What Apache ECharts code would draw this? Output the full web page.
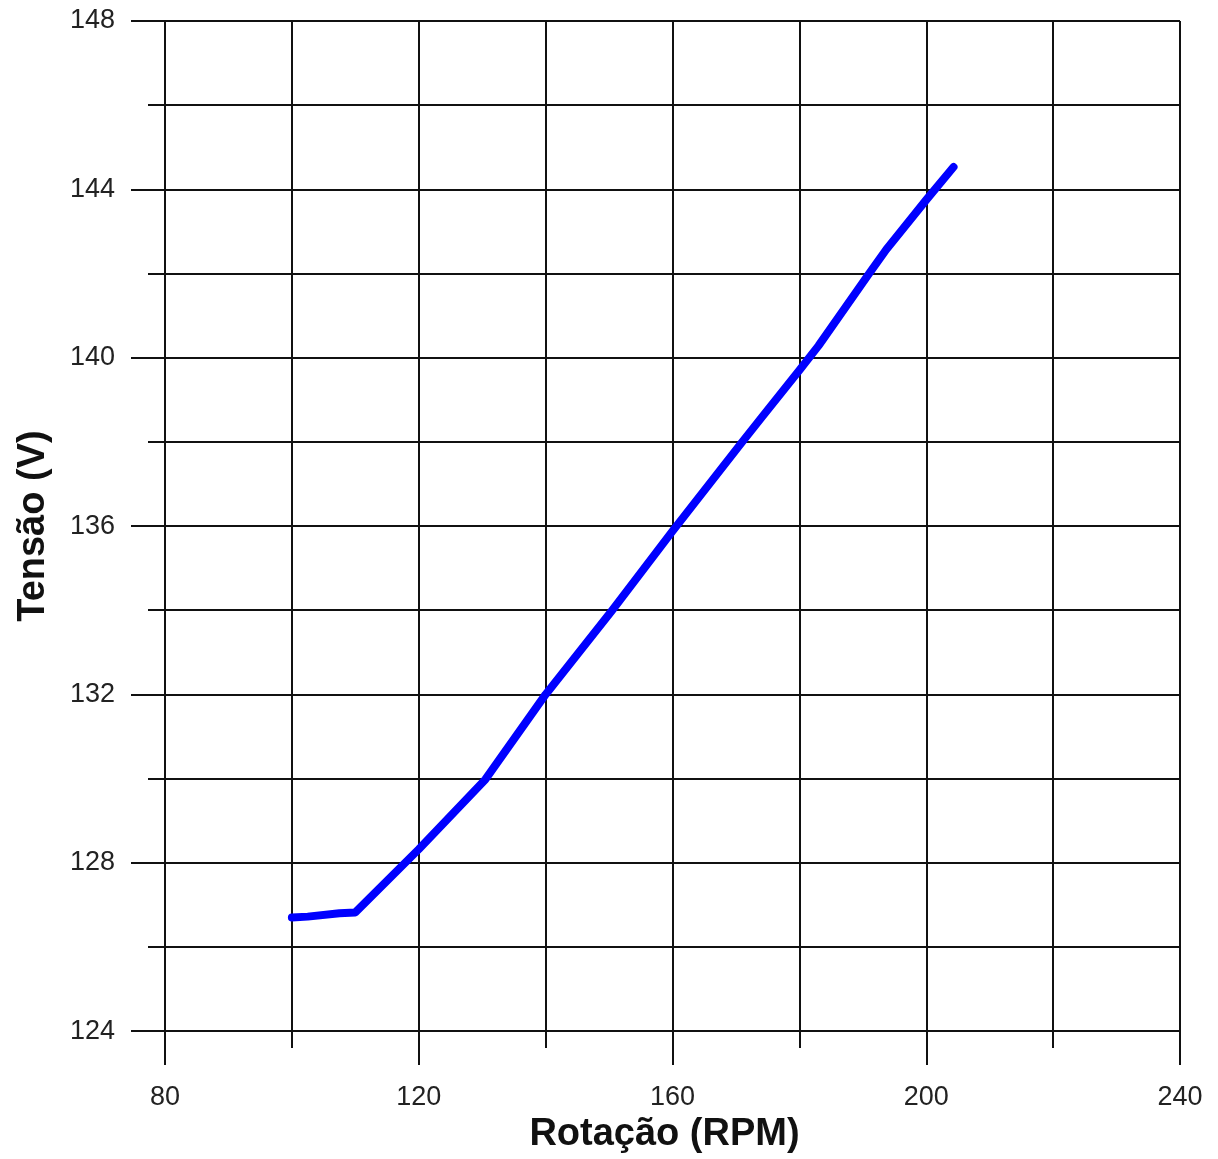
<!DOCTYPE html>
<html>
<head>
<meta charset="utf-8">
<script src="https://cdn.jsdelivr.net/npm/echarts@6/dist/echarts.min.js"></script>
<style>
html,body{margin:0;padding:0;background:#fff;}
#chart{width:1218px;height:1159px;}
</style>
</head>
<body>
<div id="chart"></div>
<script>
const rpm = [100, 102.5, 107.5, 110, 120, 130.5, 140, 150.5, 160, 171, 174, 180, 183, 191, 193.7, 200, 204.3];
const tensao = [126.70, 126.72, 126.80, 126.82, 128.32, 129.98, 132.0, 134.0, 135.88, 138.0, 138.57, 139.7, 140.28, 142.0, 142.57, 143.75, 144.53];
const xTicks = [80, 120, 160, 200, 240];
const yTicks = [124, 128, 132, 136, 140, 144, 148];
const xTitle = 'Rotação (RPM)';
const yTitle = 'Tensão (V)';

const font = '"Liberation Sans", Arial, sans-serif';
const lineSty = { color: '#111', width: 2 };

const chart = echarts.init(document.getElementById('chart'));
chart.setOption({
  animation: false,
  backgroundColor: '#fff',
  grid: { left: 165, right: 38, top: 21, bottom: 122, containLabel: false },
  xAxis: {
    type: 'value',
    min: xTicks[0], max: xTicks[xTicks.length - 1], interval: 40,
    name: xTitle, nameLocation: 'middle', nameGap: 81,
    nameTextStyle: { fontFamily: font, fontSize: 38, fontWeight: 'bold', color: '#111', padding: [0, 16, 0, 0] },
    axisLine: { show: true, lineStyle: lineSty },
    axisTick: { show: true, length: 34, lineStyle: lineSty },
    minorTick: { show: true, splitNumber: 2, length: 17, lineStyle: lineSty },
    splitLine: { show: true, lineStyle: lineSty },
    minorSplitLine: { show: true, lineStyle: lineSty },
    axisLabel: { margin: 53, fontFamily: font, fontSize: 27, color: '#222',
      formatter: v => xTicks.includes(v) ? String(v) : '' }
  },
  yAxis: {
    type: 'value',
    min: yTicks[0], max: yTicks[yTicks.length - 1], interval: 4,
    name: yTitle, nameLocation: 'middle', nameGap: 112, nameRotate: 90,
    nameTextStyle: { fontFamily: font, fontSize: 38, fontWeight: 'bold', color: '#111' },
    axisLine: { show: true, lineStyle: lineSty },
    axisTick: { show: true, length: 34, lineStyle: lineSty },
    minorTick: { show: true, splitNumber: 2, length: 17, lineStyle: lineSty },
    splitLine: { show: true, lineStyle: lineSty },
    minorSplitLine: { show: true, lineStyle: lineSty },
    axisLabel: { margin: 50, fontFamily: font, fontSize: 27, color: '#222',
      formatter: v => yTicks.includes(v) ? String(v) : '' }
  },
  series: [{
    type: 'line',
    data: rpm.map((x, i) => [x, tensao[i]]),
    showSymbol: false,
    symbol: 'none',
    smooth: false,
    lineStyle: { color: '#0000ff', width: 8, cap: 'round', join: 'round' },
    z: 10
  }]
});
</script>
</body>
</html>
